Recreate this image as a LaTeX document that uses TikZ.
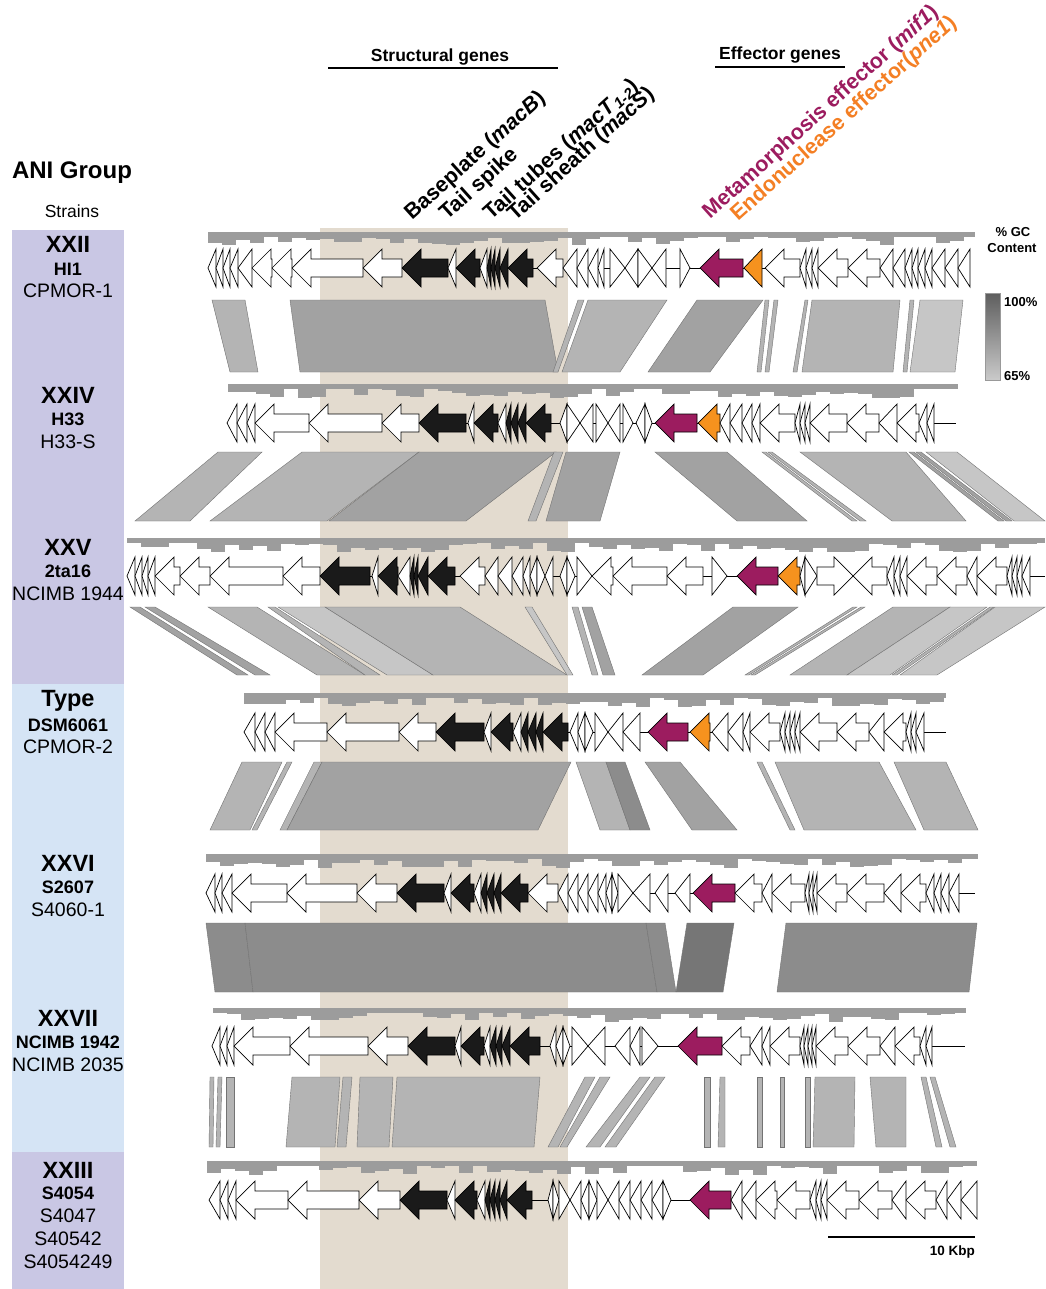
\documentclass[tikz,border=0pt]{standalone}
\usepackage{fontspec}
\setmainfont{Liberation Sans}
\definecolor{beige}{HTML}{E3DBCF}
\definecolor{pur}{HTML}{C9C7E4}
\definecolor{lblue}{HTML}{D5E4F5}
\definecolor{gcc}{HTML}{9C9C9C}
\definecolor{w}{HTML}{FFFFFF}
\definecolor{k}{HTML}{1A1A1A}
\definecolor{m}{HTML}{9C1C5F}
\definecolor{o}{HTML}{F6921E}
\definecolor{b1}{HTML}{C6C6C6}
\definecolor{b2}{HTML}{B4B4B4}
\definecolor{b3}{HTML}{A2A2A2}
\definecolor{b4}{HTML}{8C8C8C}
\definecolor{b5}{HTML}{767676}
\definecolor{mlab}{HTML}{9C1C5F}
\definecolor{olab}{HTML}{F47F24}
\definecolor{gtop}{HTML}{5E5E5E}
\definecolor{gbot}{HTML}{CACACA}
\newcommand\fsz[1]{\fontsize{#1}{#1}\selectfont}
\tikzset{
  genest/.style={draw=black, line width=0.7pt, line join=miter},
  blkst/.style={draw=black!55, line width=0.4pt},
  grp/.style={font=\fsz{23.5}\bfseries, inner sep=0pt},
  sbold/.style={font=\fsz{18}\bfseries, inner sep=0pt},
  sreg/.style={font=\fsz{19.5}, inner sep=0pt},
  hdr/.style={font=\fsz{17.5}\bfseries, inner sep=0pt},
  rlab/.style={font=\fsz{21.5}\bfseries, rotate=42, anchor=base west, inner sep=0pt},
  leg/.style={font=\fsz{13}\bfseries, inner sep=0pt},
}
% gene: tip, tail, y, fill
\newcommand\gene[4]{%
  \pgfmathsetmacro\gl{#2-(#1)}%
  \pgfmathsetmacro\gh{ifthenelse(\gl>19,19,ifthenelse(\gl<-19,-19,\gl))}%
  \filldraw[genest,fill=#4] (#1,#3) -- ({#1+\gh},{#3-19}) -- ({#1+\gh},{#3-9}) -- (#2,{#3-9}) -- (#2,{#3+9}) -- ({#1+\gh},{#3+9}) -- ({#1+\gh},{#3+19}) -- cycle;}
\newcommand\generow[4]{%
  \draw[line width=0.7pt] (#2,#1) -- (#3,#1);
  \foreach \gp/\gq/\gc in {#4} {\gene{\gp}{\gq}{#1}{\gc}}}
\newcommand\gcbar[4]{%
  \pgfmathsetseed{#4}%
  \fill[gcc] (#1,#3) rectangle (#2,{#3+5});
  \pgfmathtruncatemacro\gcn{(#2-#1)/14-1}%
  \foreach \gi in {0,...,\gcn}{%
    \pgfmathsetmacro\gx{#1+14*\gi}%
    \pgfmathsetmacro\gd{4+rnd*10}%
    \fill[gcc] (\gx,#3) rectangle ({\gx+14},{#3+\gd});}}
\newcommand\blocks[3]{%
  \foreach \ga/\gb/\gcc/\gdd/\gs in {#3} {\filldraw[blkst, fill=\gs] (\ga,#1) -- (\gb,#1) -- (\gdd,#2) -- (\gcc,#2) -- cycle;}}
\begin{document}
\begin{tikzpicture}[x=1pt,y=-1pt]
\useasboundingbox (0,0) rectangle (1045,1289);
\fill[white] (0,0) rectangle (1045,1289);
% background band and panels
\fill[beige] (320,228) rectangle (568,1289);
\fill[pur] (12,230) rectangle (124,684);
\fill[lblue] (12,684) rectangle (124,1152);
\fill[pur] (12,1152) rectangle (124,1289);

% comparison blocks
\blocks{300}{372}{212/245/230/258/b2, 290/545/300/558/b3, 578/584/553/558/b2, 588/667/562/620/b2, 697/763/648/710/b3, 765/769/757/761/b2, 774/778/765/769/b2, 805/808/793/797/b2, 812/900/802/893/b2, 910/914/903/907/b2, 920/963/910/955/b1}
\blocks{452}{521}{218/262/135/190/b2, 302/419/210/327/b2, 419/556/329/466/b3, 554/563/528/536/b2, 566/620/546/600/b3, 655/727/737/807/b3, 762/766/852/857/b2, 768/772/860/866/b2, 800/906/892/966/b2, 909/914/998/1004/b3, 916/921/1006/1012/b3, 926/957/1014/1045/b1}
\blocks{607}{675}{130/140/237/248/b3, 145/155/255/270/b3, 208/257/317/365/b2, 268/275/365/380/b2, 278/325/387/433/b1, 325/460/433/567/b2, 525/532/567/573/b1, 572/578/592/598/b2, 582/592/603/615/b3, 733/798/642/703/b3, 853/857/745/749/b2, 861/865/751/755/b2, 893/950/790/847/b2, 950/987/847/890/b1, 990/994/892/897/b2, 995/1045/900/937/b1}
\blocks{762}{830}{242/282/210/250/b2, 287/292/252/257/b2, 314/322/280/287/b2, 322/571/287/538/b3, 576/606/600/630/b2, 606/625/630/650/b4, 645/680/692/737/b3, 757/762/790/795/b2, 775/879/804/916/b2, 894/946/924/978/b2}
\blocks{923}{992}{206/245/215/253/b4, 245/646/253/657/b4, 646/665/657/676/b4, 687/734/676/723/b5, 786/977/777/969/b4}
\blocks{1077}{1147}{210/214/209/213/b2, 218/222/216/220/b2, 226/234/226/234/b2, 292/340/286/335/b2, 343/352/337/346/b2, 360/393/357/389/b2, 397/540/392/534/b2, 585/595/548/558/b2, 600/610/560/567/b2, 640/650/586/600/b2, 655/665/605/616/b2, 704/710/704/710/b2, 720/725/718/725/b2, 757/762/757/762/b2, 780/784/780/784/b2, 805/810/805/810/b2, 815/855/813/854/b2, 870/906/876/906/b2, 921/926/936/942/b2, 930/935/950/956/b2}

% GC content bars
\gcbar{208}{975}{232}{11}
\gcbar{228}{958}{384}{12}
\gcbar{127}{1045}{538}{13}
\gcbar{244}{946}{693}{14}
\gcbar{206}{978}{854}{15}
\gcbar{213}{966}{1008}{16}
\gcbar{207}{977}{1161}{17}

% gene rows
\generow{268}{208}{970}{208/216/w, 216/223/w, 223/230/w, 230/238/w, 238/252/w, 252/272/w, 272/292/w, 292/363/w, 363/402/w, 402/448/k, 448/456/w, 456/480/k, 480/487/w, 487/491/k, 491/495/k, 495/500/k, 500/508/k, 508/533/k, 537/563/w, 563/577/w, 577/588/w, 588/598/w, 598/604/w, 625/610/w, 625/638/w, 652/638/w, 652/666/w, 690/680/w, 700/743/m, 744/762/o, 765/800/w, 800/806/w, 806/812/w, 812/818/w, 818/848/w, 848/880/w, 880/893/w, 893/905/w, 905/912/w, 912/918/w, 918/925/w, 925/932/w, 932/945/w, 945/958/w, 958/970/w}
\generow{423}{227}{956}{227/237/w, 237/247/w, 247/255/w, 255/309/w, 309/382/w, 382/419/w, 419/466/k, 468/474/w, 474/498/k, 498/506/w, 506/511/k, 511/518/k, 518/526/k, 526/551/k, 560/567/w, 580/567/w, 580/593/w, 608/596/w, 608/620/w, 633/623/w, 636/645/w, 652/645/w, 655/697/m, 698/720/o, 720/730/w, 730/742/w, 742/752/w, 752/760/w, 760/795/w, 795/800/w, 800/805/w, 805/810/w, 810/847/w, 847/879/w, 879/897/w, 897/919/w, 919/927/w, 927/934/w}
\generow{576}{127}{1045}{127/135/w, 135/142/w, 142/148/w, 148/155/w, 155/180/w, 180/210/w, 210/283/w, 283/320/w, 320/370/k, 372/378/w, 378/398/k, 398/410/w, 410/414/k, 414/418/k, 418/428/k, 428/455/k, 460/485/w, 485/498/w, 498/512/w, 512/523/w, 523/530/w, 530/537/w, 545/537/w, 545/553/w, 560/567/w, 575/567/w, 592/577/w, 592/613/w, 613/667/w, 667/703/w, 727/712/w, 737/778/m, 778/800/o, 800/805/w, 817/805/w, 853/817/w, 853/887/w, 887/894/w, 894/900/w, 900/907/w, 907/937/w, 937/967/w, 967/977/w, 977/1007/w, 1007/1012/w, 1012/1017/w, 1017/1022/w, 1022/1030/w}
\generow{732}{244}{946}{244/255/w, 255/265/w, 265/275/w, 275/327/w, 327/399/w, 399/436/w, 436/484/k, 484/491/w, 491/513/k, 513/521/w, 521/528/k, 528/536/k, 536/543/k, 543/568/k, 570/578/w, 578/585/w, 593/585/w, 608/595/w, 608/623/w, 623/640/w, 648/688/m, 690/710/o, 712/728/w, 728/743/w, 743/750/w, 750/780/w, 780/785/w, 785/790/w, 790/795/w, 795/800/w, 800/837/w, 837/869/w, 869/884/w, 884/906/w, 906/911/w, 911/916/w, 916/924/w}
\generow{893}{206}{975}{206/215/w, 215/222/w, 222/232/w, 232/287/w, 287/357/w, 357/397/w, 397/444/k, 444/451/w, 451/474/k, 474/481/w, 481/487/k, 487/494/k, 494/501/k, 501/528/k, 528/558/w, 558/568/w, 568/578/w, 578/588/w, 588/598/w, 598/606/w, 606/612/w, 618/612/w, 633/618/w, 633/650/w, 655/668/w, 675/690/w, 693/735/m, 735/762/w, 762/772/w, 772/805/w, 805/809/w, 809/813/w, 813/817/w, 817/847/w, 847/884/w, 884/901/w, 901/926/w, 926/934/w, 934/941/w, 941/949/w, 949/959/w}
\generow{1046}{212}{965}{212/220/w, 220/227/w, 227/234/w, 234/290/w, 290/368/w, 368/408/w, 408/455/k, 455/461/w, 461/484/k, 484/490/w, 490/496/k, 496/502/k, 502/510/k, 510/540/k, 550/556/w, 556/563/w, 570/563/w, 588/572/w, 588/605/w, 615/630/w, 630/640/w, 658/642/w, 678/722/m, 722/750/w, 750/762/w, 762/770/w, 770/800/w, 800/804/w, 804/808/w, 808/812/w, 812/816/w, 816/848/w, 848/880/w, 880/895/w, 895/920/w, 920/926/w, 926/932/w}
\generow{1200}{209}{977}{209/220/w, 220/228/w, 228/236/w, 236/288/w, 288/359/w, 359/400/w, 400/447/k, 447/455/w, 455/477/k, 477/485/w, 485/490/k, 490/495/k, 495/500/k, 500/507/k, 507/532/k, 548/553/w, 559/553/w, 570/559/w, 570/581/w, 581/589/w, 597/589/w, 608/597/w, 608/619/w, 619/630/w, 630/641/w, 641/652/w, 652/663/w, 671/663/w, 690/731/m, 731/742/w, 742/756/w, 756/777/w, 777/810/w, 810/816/w, 816/821/w, 821/827/w, 827/859/w, 859/892/w, 892/906/w, 906/936/w, 936/947/w, 947/961/w, 961/977/w}

% left labels
\node[font=\fsz{24}\bfseries, inner sep=0pt] (ani) at (72,173) {ANI Group};
\node[font=\fsz{17.5}, inner sep=0pt] (strains) at (72,211) {Strains};
\node[grp] (g1) at (68,244) {XXII};
\node[sbold] (g1a) at (68,269) {HI1};
\node[sreg] (g1b) at (68,291) {CPMOR-1};
\node[grp] (g2) at (68,395) {XXIV};
\node[sbold] (g2a) at (68,419) {H33};
\node[sreg] (g2b) at (68,442) {H33-S};
\node[grp] (g3) at (68,547) {XXV};
\node[sbold] (g3a) at (68,571) {2ta16};
\node[sreg] (g3b) at (68,594) {NCIMB 1944};
\node[grp] (g4) at (68,701) {Type};
\node[sbold] (g4a) at (68,725) {DSM6061};
\node[sreg] (g4b) at (68,747) {CPMOR-2};
\node[grp] (g5) at (68,863) {XXVI};
\node[sbold] (g5a) at (68,887) {S2607};
\node[sreg] (g5b) at (68,910) {S4060-1};
\node[grp] (g6) at (68,1018) {XXVII};
\node[sbold] (g6a) at (68,1042) {NCIMB 1942};
\node[sreg] (g6b) at (68,1065) {NCIMB 2035};
\node[grp] (g7) at (68,1170) {XXIII};
\node[sbold] (g7a) at (68,1193) {S4054};
\node[sreg] (g7b) at (68,1216) {S4047};
\node[sreg] (g7c) at (68,1239) {S40542};
\node[sreg] (g7d) at (68,1262) {S4054249};

% headers
\node[hdr] (sg) at (440,57) {Structural genes};
\draw[line width=1.2pt] (328,68) -- (558,68);
\node[hdr] (eg) at (780,55) {Effector genes};
\draw[line width=1.2pt] (715,67) -- (845,67);

% rotated gene labels
\node[rlab] (bp) at (412,221) {Baseplate (\textit{macB})};
\node[rlab] (ts) at (447,221) {Tail spike};
\node[rlab] (tt) at (491,221) {Tail tubes (\textit{macT}\textsubscript{\textit{1-2}})};
\node[rlab] (tsh) at (515,222) {Tail sheath (\textit{macS})};
\node[rlab, text=mlab] (mif) at (710,220) {Metamorphosis effector (\textit{mif1})};
\node[rlab, text=olab] (pne) at (738,222) {Endonuclease effector(\textit{pne1})};

% GC legend
\node[leg] (gc1) at (1013,232) {\% GC};
\node[leg] (gc2) at (1012,248) {Content};
\shade[top color=gtop, bottom color=gbot, draw=black!40, line width=0.3pt] (985,293) rectangle (1000,380);
\node[leg, anchor=west] (gc100) at (1004,302) {100\%};
\node[leg, anchor=west] (gc65) at (1004,376) {65\%};

% scale bar
\draw[line width=2.5pt] (828,1237) -- (975,1237);
\node[leg, font=\fsz{13.5}\bfseries, anchor=east] (kbp) at (975,1252) {10 Kbp};
\end{tikzpicture}
\end{document}
